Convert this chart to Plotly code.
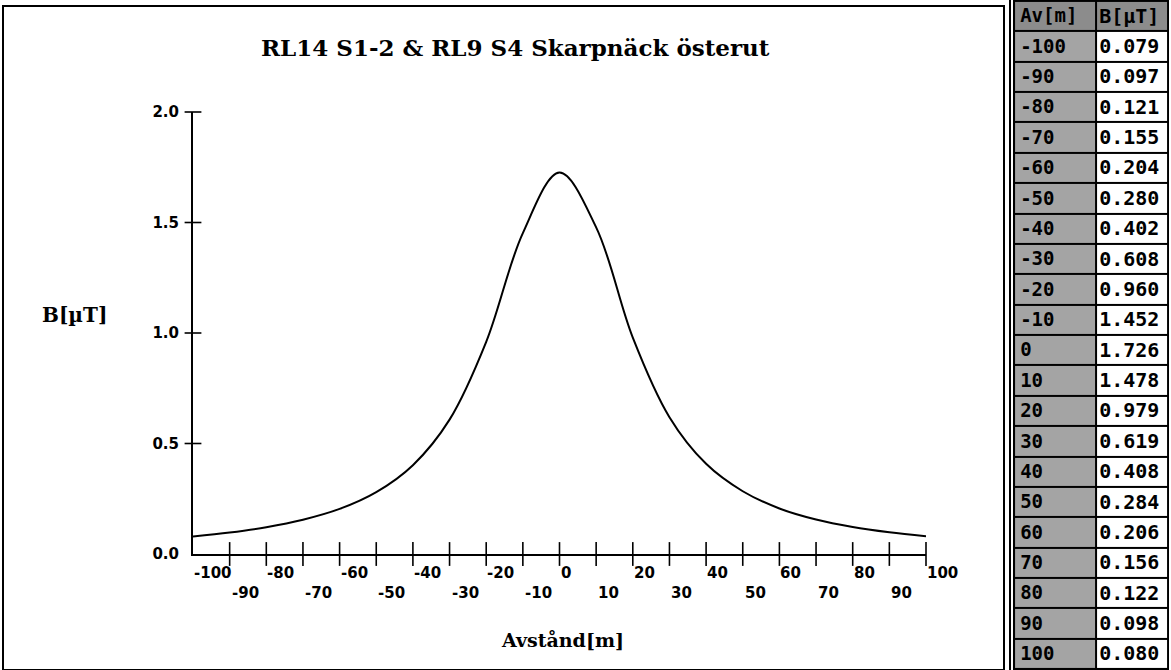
import plotly.graph_objects as go

# avstånd (m) och magnetfält (uT)
avstand = [-100, -90, -80, -70, -60, -50, -40, -30, -20, -10, 0,
           10, 20, 30, 40, 50, 60, 70, 80, 90, 100]
b_falt = [0.079, 0.097, 0.121, 0.155, 0.204, 0.280, 0.402, 0.608, 0.960, 1.452,
          1.726, 1.478, 0.979, 0.619, 0.408, 0.284, 0.206, 0.156, 0.122, 0.098, 0.080]

x_ticks = [-90, -80, -70, -60, -50, -40, -30, -20, -10, 0, 10, 20, 30, 40, 50, 60, 70, 80, 90, 100]
x_lab_upper = [-100, -80, -60, -40, -20, 0, 20, 40, 60, 80, 100]
x_lab_lower = [-90, -70, -50, -30, -10, 10, 30, 50, 70, 90]
y_ticks = [0.5, 1.0, 1.5, 2.0]
y_labels = [0.0, 0.5, 1.0, 1.5, 2.0]
kolumner = ["Av[m]", "B[µT]"]

W, H = 1171, 670
x0, x1 = 193, 926   # plotyta i px
y0, y1 = 112, 554

fig = go.Figure()

fig.add_trace(go.Scatter(x=avstand, y=b_falt, mode="lines",
                         line=dict(color="black", width=2, shape="spline", smoothing=1.0),
                         showlegend=False, hoverinfo="skip"))

# korsande tickmarkeringar
fig.add_trace(go.Scatter(x=x_ticks, y=[0] * len(x_ticks), mode="markers", cliponaxis=False,
                         marker=dict(symbol="line-ns", size=17, line=dict(color="black", width=1.6)),
                         showlegend=False, hoverinfo="skip"))
fig.add_trace(go.Scatter(x=[-100] * len(y_ticks), y=y_ticks, mode="markers", cliponaxis=False,
                         marker=dict(symbol="line-ew", size=12, line=dict(color="black", width=1.6)),
                         showlegend=False, hoverinfo="skip"))

# tabell som heatmap (fyllning) + text
n = len(avstand)
col_w = [80, 71]
x_edges = [0, col_w[0], col_w[0] + col_w[1]]
y_edges = list(range(n + 2))
z = [[2, 2]] + [[1, 0] for _ in avstand]
fig.add_trace(go.Heatmap(x=x_edges, y=y_edges, z=z, xaxis="x2", yaxis="y2", showscale=False,
                         colorscale=[[0, "white"], [0.5, "#a4a4a4"], [1, "#8c8c8c"]], zmin=0, zmax=2,
                         xgap=2, ygap=2, hoverinfo="skip"))
rad_y = [i + 0.55 for i in range(n + 1)]
fig.add_trace(go.Scatter(x=[6] * (n + 1), y=rad_y, mode="text", xaxis="x2", yaxis="y2",
                         text=["<b>%s</b>" % kolumner[0]] + ["<b>%d</b>" % v for v in avstand],
                         textposition="middle right", cliponaxis=False,
                         textfont=dict(family="DejaVu Sans Mono", size=19, color="black"),
                         showlegend=False, hoverinfo="skip"))
fig.add_trace(go.Scatter(x=[col_w[0] + 3.5] * (n + 1), y=rad_y, mode="text", xaxis="x2", yaxis="y2",
                         text=["<b>%s</b>" % kolumner[1]] + ["<b>%.3f</b>" % v for v in b_falt],
                         textposition="middle right", cliponaxis=False,
                         textfont=dict(family="DejaVu Sans Mono", size=20, color="black"),
                         showlegend=False, hoverinfo="skip"))

ann = []
for v in x_lab_upper:
    ann.append(dict(x=v, y=0, xref="x", yref="y", text="<b>%d</b>" % v, showarrow=False, xanchor="left",
                    yanchor="middle", xshift=-1, yshift=-19,
                    font=dict(family="DejaVu Sans", size=15, color="black")))
for v in x_lab_lower:
    ann.append(dict(x=v, y=0, xref="x", yref="y", text="<b>%d</b>" % v, showarrow=False, xanchor="left",
                    yanchor="middle", xshift=0, yshift=-39,
                    font=dict(family="DejaVu Sans", size=15, color="black")))
ann.append(dict(x=74 / W, y=1 - 315 / H, xref="paper", yref="paper", text="<b>B[µT]</b>", showarrow=False,
                xanchor="center", yanchor="middle", font=dict(family="DejaVu Serif", size=20, color="black")))
ann.append(dict(x=562 / W, y=1 - 640 / H, xref="paper", yref="paper", text="<b>Avstånd[m]</b>", showarrow=False,
                xanchor="center", yanchor="middle", font=dict(family="DejaVu Serif", size=19, color="black")))
ann.append(dict(x=515 / W, y=1 - 47 / H, xref="paper", yref="paper",
                text="<b>RL14 S1-2 & RL9 S4 Skarpnäck österut</b>", showarrow=False,
                xanchor="center", yanchor="middle", font=dict(family="DejaVu Serif", size=23, color="black")))

fig.update_layout(
    width=W, height=H,
    margin=dict(l=0, r=0, t=0, b=0, autoexpand=False),
    paper_bgcolor="white", plot_bgcolor="white",
    xaxis=dict(domain=[x0 / W, x1 / W], range=[-100, 100], showgrid=False, zeroline=False, automargin=False,
               showline=True, linecolor="black", linewidth=2, showticklabels=False, ticks=""),
    yaxis=dict(domain=[1 - y1 / H, 1 - y0 / H], range=[0, 2], showgrid=False, zeroline=False, automargin=False,
               showline=True, linecolor="black", linewidth=2, ticks="",
               tickvals=y_labels, ticktext=["<b>%.1f</b>" % v for v in y_labels], ticklabelstandoff=9,
               tickfont=dict(family="DejaVu Sans", size=15, color="black")),
    xaxis2=dict(domain=[1013 / W, 1169 / W], range=[-1, 152], anchor="y2", visible=False, fixedrange=True),
    yaxis2=dict(domain=[0, 1], range=[n + 1.03, -0.03], anchor="x2", visible=False, fixedrange=True),
    annotations=ann,
    shapes=[
        dict(type="rect", xref="paper", yref="paper", x0=3 / W, x1=1004 / W, y0=0, y1=1 - 6 / H,
             line=dict(color="black", width=2)),
        dict(type="line", xref="paper", yref="paper", x0=1010 / W, x1=1010 / W, y0=0, y1=1,
             line=dict(color="black", width=2)),
        dict(type="rect", xref="x2", yref="y2", x0=-1, x1=152, y0=-0.03, y1=n + 1.03, layer="below",
             fillcolor="black", line=dict(width=0)),
    ],
)

fig.write_html("out.html", config={"displayModeBar": False},
               post_script="document.body.style.margin='0';")
